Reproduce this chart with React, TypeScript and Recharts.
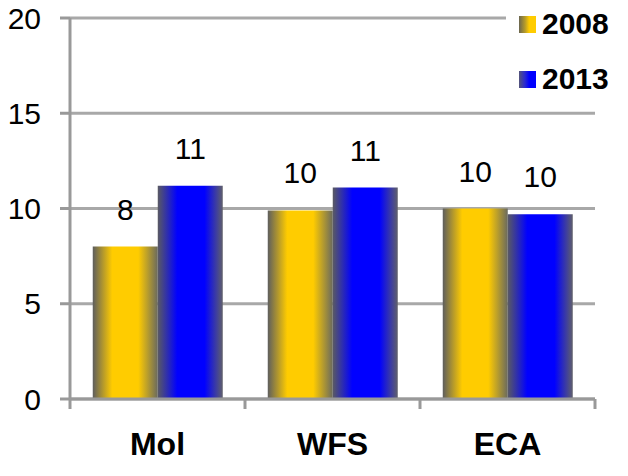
import { Bar, BarChart, CartesianGrid, LabelList, Legend, XAxis, YAxis } from "recharts";

const CATEGORIES = ["Mol", "WFS", "ECA"];
const VALUES_2008 = [8.0, 9.9, 10.0];
const VALUES_2013 = [11.2, 11.1, 9.7];
const Y_TICKS = [0, 5, 10, 15, 20];

const data = CATEGORIES.map((name, i) => ({
  name,
  y2008: VALUES_2008[i],
  y2013: VALUES_2013[i],
}));

const FONT = "'Liberation Sans', Arial, sans-serif";
const AXIS = "#999999";
const GRID = "#a8a8a8";
const LABEL_GAP = 33;

const legendItems = [
  { name: "2008", swatch: "linear-gradient(to right, #6a6650 0%, #b49a2a 35%, #ffcc00 60%)" },
  { name: "2013", swatch: "linear-gradient(to right, #55557a 0%, #2a2ad0 35%, #0000ff 60%)" },
];

function YearLegend() {
  return (
    <div style={{ display: "flex", flexDirection: "column", gap: 21 }}>
      {legendItems.map((it) => (
        <div key={it.name} style={{ display: "flex", alignItems: "center", height: 34 }}>
          <span style={{ width: 17, height: 17, background: it.swatch, marginRight: 6 }} />
          <span style={{ fontFamily: FONT, fontWeight: "bold", fontSize: 30, color: "#000" }}>
            {it.name}
          </span>
        </div>
      ))}
    </div>
  );
}

// Category label plus the small marks at the band edges (Excel-style "between" ticks).
function CategoryTick(props: any) {
  const { x, y, payload, index, visibleTicksCount } = props;
  const half = payload.offset ?? 0;
  const axisY = y - LABEL_GAP;
  const mark = (mx: number) => (
    <line x1={mx} x2={mx} y1={axisY} y2={axisY + 10} stroke={AXIS} strokeWidth={3} />
  );
  return (
    <g>
      {mark(x - half)}
      {index === visibleTicksCount - 1 && mark(x + half)}
      <text x={x} y={y} dy="0.71em" textAnchor="middle" fill="#000" fontSize={32} fontWeight="bold" fontFamily={FONT}>
        {payload.value}
      </text>
    </g>
  );
}

const roundLabel = (v: any) => Math.round(Number(v));

export default function App() {
  return (
    <div style={{ width: 628, height: 476 }}>
      <style>{"body{margin:0}"}</style>
      <BarChart
        width={628}
        height={476}
        data={data}
        margin={{ top: 18, right: 33, bottom: 0, left: 0 }}
        barCategoryGap="13%"
        barGap={0}
        style={{ fontFamily: FONT }}
      >
        <defs>
          <linearGradient id="g2008" x1="0" y1="0" x2="1" y2="0">
            <stop offset="0%" stopColor="#5e5e5e" />
            <stop offset="30%" stopColor="#ffcc00" />
            <stop offset="70%" stopColor="#ffcc00" />
            <stop offset="100%" stopColor="#6a6a5e" />
          </linearGradient>
          <linearGradient id="g2013" x1="0" y1="0" x2="1" y2="0">
            <stop offset="0%" stopColor="#5a5a62" />
            <stop offset="30%" stopColor="#0000ff" />
            <stop offset="72%" stopColor="#0000ff" />
            <stop offset="100%" stopColor="#60606a" />
          </linearGradient>
        </defs>
        <CartesianGrid vertical={false} stroke={GRID} strokeWidth={3} />
        <XAxis
          dataKey="name"
          height={77}
          axisLine={{ stroke: AXIS, strokeWidth: 3 }}
          tickLine={false}
          tickSize={0}
          tickMargin={LABEL_GAP}
          interval={0}
          tick={<CategoryTick />}
        />
        <YAxis
          domain={[0, 20]}
          ticks={Y_TICKS}
          width={70}
          tickSize={10}
          tickMargin={19}
          axisLine={{ stroke: AXIS, strokeWidth: 3 }}
          tickLine={{ stroke: AXIS, strokeWidth: 3 }}
          tick={{ fill: "#000", fontSize: 30 }}
        />
        <Legend
          layout="vertical"
          align="center"
          verticalAlign="middle"
          content={<YearLegend />}
          wrapperStyle={{ left: 506, top: 0, width: 122, height: 100, paddingTop: 7, paddingLeft: 13, boxSizing: "border-box", background: "#fff" }}
        />
        <Bar dataKey="y2008" name="2008" fill="url(#g2008)" isAnimationActive={false}>
          <LabelList dataKey="y2008" position="top" offset={27} formatter={roundLabel} fill="#000" fontSize={30} />
        </Bar>
        <Bar dataKey="y2013" name="2013" fill="url(#g2013)" isAnimationActive={false}>
          <LabelList dataKey="y2013" position="top" offset={27} formatter={roundLabel} fill="#000" fontSize={30} />
        </Bar>
      </BarChart>
    </div>
  );
}
